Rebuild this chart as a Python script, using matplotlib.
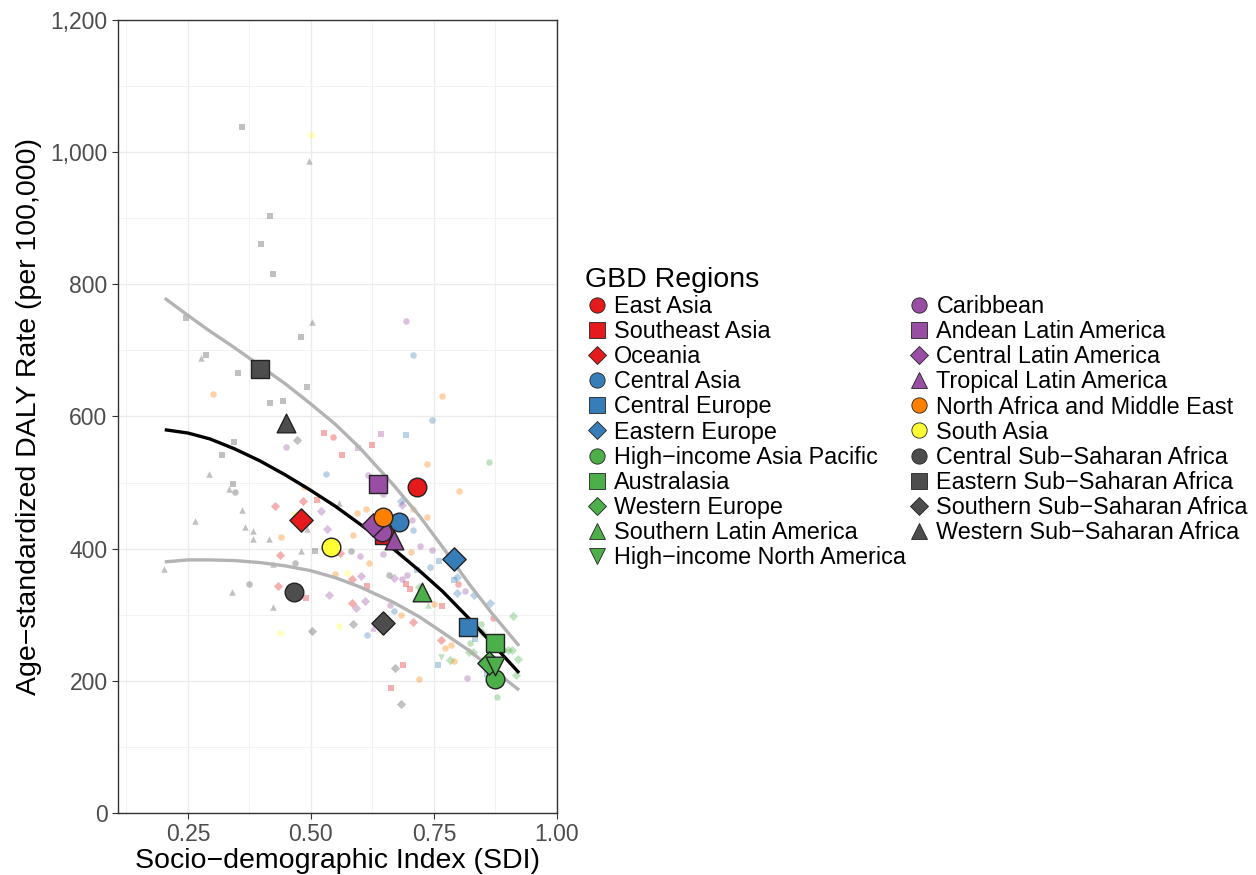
import numpy as np
import matplotlib.pyplot as plt
from matplotlib.lines import Line2D

plt.rcParams['font.family'] = ['Liberation Sans', 'DejaVu Sans']

# GBD regions: name, colour, marker
regions = ['East Asia', 'Southeast Asia', 'Oceania', 'Central Asia', 'Central Europe',
           'Eastern Europe', 'High\u2212income Asia Pacific', 'Australasia', 'Western Europe',
           'Southern Latin America', 'High\u2212income North America', 'Caribbean',
           'Andean Latin America', 'Central Latin America', 'Tropical Latin America',
           'North Africa and Middle East', 'South Asia', 'Central Sub\u2212Saharan Africa',
           'Eastern Sub\u2212Saharan Africa', 'Southern Sub\u2212Saharan Africa',
           'Western Sub\u2212Saharan Africa']
red, blue, green, purple, orange, yellow, dark = '#E41A1C', '#377EB8', '#4DAF4A', '#984EA3', '#FF7F00', '#FFFF33', '#4D4D4D'
region_colors = [red, red, red, blue, blue, blue, green, green, green, green, green,
                 purple, purple, purple, purple, orange, yellow, dark, dark, dark, dark]
region_markers = ['o', 's', 'D', 'o', 's', 'D', 'o', 's', 'D', '^', 'v',
                  'o', 's', 'D', '^', 'o', 'o', 'o', 's', 'D', '^']

# regional values
region_sdi = [0.715, 0.648, 0.480, 0.679, 0.819, 0.791, 0.874, 0.874, 0.862, 0.726, 0.874,
              0.644, 0.636, 0.626, 0.669, 0.646, 0.541, 0.465, 0.396, 0.646, 0.449]
region_daly = [493, 420, 443, 440, 281, 384, 203, 257, 227, 334, 222,
               425, 498, 436, 413, 448, 402, 334, 672, 287, 590]

# country values (index into regions)
country_region = ([0] * 3 + [1] * 11 + [2] * 9 + [3] * 7 + [4] * 7 + [5] * 5 + [6] * 4 + [7] * 1
                  + [8] * 11 + [9] * 2 + [10] * 1 + [11] * 14 + [12] * 2 + [13] * 8 + [14] * 1
                  + [15] * 20 + [16] * 5 + [17] * 5 + [18] * 15 + [19] * 5 + [20] * 19)
country_sdi = [
    0.545, 0.799, 0.870,
    0.526, 0.563, 0.512, 0.490, 0.624, 0.614, 0.693, 0.701, 0.766, 0.687, 0.663,
    0.484, 0.427, 0.559, 0.437, 0.433, 0.583, 0.583, 0.707, 0.764,
    0.707, 0.746, 0.530, 0.707, 0.742, 0.669, 0.614,
    0.693, 0.760, 0.715, 0.791, 0.833, 0.758, 0.858,
    0.683, 0.797, 0.797, 0.831, 0.864,
    0.862, 0.846, 0.823, 0.878,
    0.868,
    0.720, 0.911, 0.848, 0.821, 0.829, 0.890, 0.900, 0.909, 0.782, 0.921, 0.917,
    0.713, 0.738,
    0.764,
    0.693, 0.449, 0.616, 0.646, 0.705, 0.722, 0.746, 0.600, 0.646, 0.685, 0.695, 0.813, 0.661, 0.817,
    0.642, 0.596,
    0.520, 0.533, 0.537, 0.685, 0.602, 0.669, 0.591, 0.610,
    0.626,
    0.301, 0.766, 0.486, 0.439, 0.549, 0.736, 0.801, 0.593, 0.612, 0.707, 0.736, 0.585, 0.703,
    0.618, 0.683, 0.750, 0.772, 0.785, 0.791, 0.720,
    0.500, 0.465, 0.573, 0.437, 0.557,
    0.345, 0.467, 0.374, 0.581, 0.659,
    0.360, 0.417, 0.398, 0.423, 0.246, 0.480, 0.287, 0.352, 0.492, 0.417, 0.443, 0.343, 0.319,
    0.341, 0.508,
    0.472, 0.502, 0.585, 0.671, 0.683,
    0.496, 0.502, 0.276, 0.293, 0.333, 0.557, 0.360, 0.264, 0.366, 0.382, 0.382, 0.415, 0.492,
    0.480, 0.423, 0.201, 0.339, 0.423, 0.545]
country_daly = [
    569, 346, 295,
    575, 542, 474, 325, 557, 343, 346, 339, 313, 224, 189,
    472, 464, 393, 390, 343, 354, 318, 289, 262,
    693, 595, 513, 428, 372, 306, 269,
    572, 381, 368, 353, 263, 224, 210,
    472, 357, 333, 330, 318,
    531, 286, 257, 176,
    247,
    342, 298, 274, 244, 244, 247, 247, 247, 231, 233, 209,
    327, 315,
    236,
    744, 554, 511, 483, 443, 404, 398, 389, 392, 354, 360, 336, 315, 204,
    573, 552,
    457, 430, 330, 466, 359, 356, 310, 321,
    280,
    634, 631, 493, 418, 362, 528, 487, 454, 460, 460, 448, 421, 395,
    378, 300, 316, 250, 254, 230, 203,
    1026, 452, 363, 272, 283,
    486, 378, 346, 396, 360,
    1038, 903, 861, 815, 749, 720, 693, 666, 645, 620, 623, 561, 542,
    498, 396,
    564, 275, 286, 219, 165,
    986, 743, 688, 513, 490, 469, 458, 442, 433, 427, 415, 415, 430,
    396, 377, 369, 334, 312, 402]

# fitted curves (expected value and bounds)
fit_sdi = [0.203, 0.250, 0.295, 0.345, 0.396, 0.447, 0.498, 0.550, 0.600, 0.667, 0.720, 0.768, 0.823, 0.870, 0.923]
fit_mean = [580, 575, 566, 551, 533, 512, 489, 464, 437, 400, 367, 335, 293, 255, 212]
fit_upper = [779, 753, 729, 704, 677, 650, 620, 588, 552, 497, 450, 402, 345, 300, 253]
fit_lower = [380, 383, 383, 382, 379, 374, 367, 356, 342, 319, 297, 273, 245, 217, 186]

fig = plt.figure(figsize=(12.56, 8.75), dpi=100)
ax = fig.add_axes([118 / 1256, 62 / 875, 439 / 1256, 793 / 875])

csdi = np.array(country_sdi)
cdaly = np.array(country_daly)
creg = np.array(country_region)
for i in range(len(regions)):
    m = creg == i
    ax.scatter(csdi[m], cdaly[m], s=22, marker=region_markers[i], color=region_colors[i],
               alpha=0.35, linewidths=0, zorder=2)

ax.plot(fit_sdi, fit_upper, color='#B3B3B3', lw=2.4, zorder=3, solid_capstyle='butt')
ax.plot(fit_sdi, fit_lower, color='#B3B3B3', lw=2.4, zorder=3, solid_capstyle='butt')
ax.plot(fit_sdi, fit_mean, color='black', lw=2.4, zorder=4, solid_capstyle='butt')

for i in range(len(regions)):
    ax.scatter(region_sdi[i], region_daly[i], s=180 if region_markers[i] != 'D' else 140,
               marker=region_markers[i], color=region_colors[i], edgecolors='#222222',
               linewidths=1.0, zorder=5)

ax.set_xlim(0.108, 1.0)
ax.set_ylim(0, 1200)
ax.set_xticks([0.25, 0.50, 0.75, 1.00])
ax.set_xticklabels(['0.25', '0.50', '0.75', '1.00'])
ax.set_xticks([0.125, 0.375, 0.625, 0.875], minor=True)
ax.set_yticks(range(0, 1201, 200))
ax.set_yticklabels([f'{v:,}' for v in range(0, 1201, 200)])
ax.set_yticks(range(100, 1200, 200), minor=True)
ax.grid(True, which='major', color='#EBEBEB', lw=1.0)
ax.grid(True, which='minor', color='#F2F2F2', lw=0.7)
ax.set_axisbelow(True)
ax.tick_params(which='major', length=4, color='#333333', labelsize=16.5, labelcolor='#4D4D4D')
ax.tick_params(which='minor', length=0)
for sp in ax.spines.values():
    sp.set_color('#333333')
    sp.set_linewidth(1.0)
ax.set_xlabel('Socio\u2212demographic Index (SDI)', fontsize=20.5, labelpad=1)
ax.set_ylabel('Age\u2212standardized DALY Rate (per 100,000)', fontsize=20.5, labelpad=6)

handles = [Line2D([], [], ls='none', marker=region_markers[i], color=region_colors[i],
                  markeredgecolor='#222222', markeredgewidth=0.6,
                  markersize=11 if region_markers[i] != 'D' else 9.5)
           for i in range(len(regions))]
leg = fig.legend(handles, regions, ncol=2, loc='upper left', bbox_to_anchor=(585 / 1256, 1 - 267 / 875),
                 frameon=False, title='GBD Regions', title_fontsize=20.5, fontsize=16.8,
                 labelspacing=0.09, handletextpad=0.25, handlelength=1.0, columnspacing=0.05,
                 borderaxespad=0, borderpad=0, alignment='left')

fig.savefig('out.png', dpi=100)
